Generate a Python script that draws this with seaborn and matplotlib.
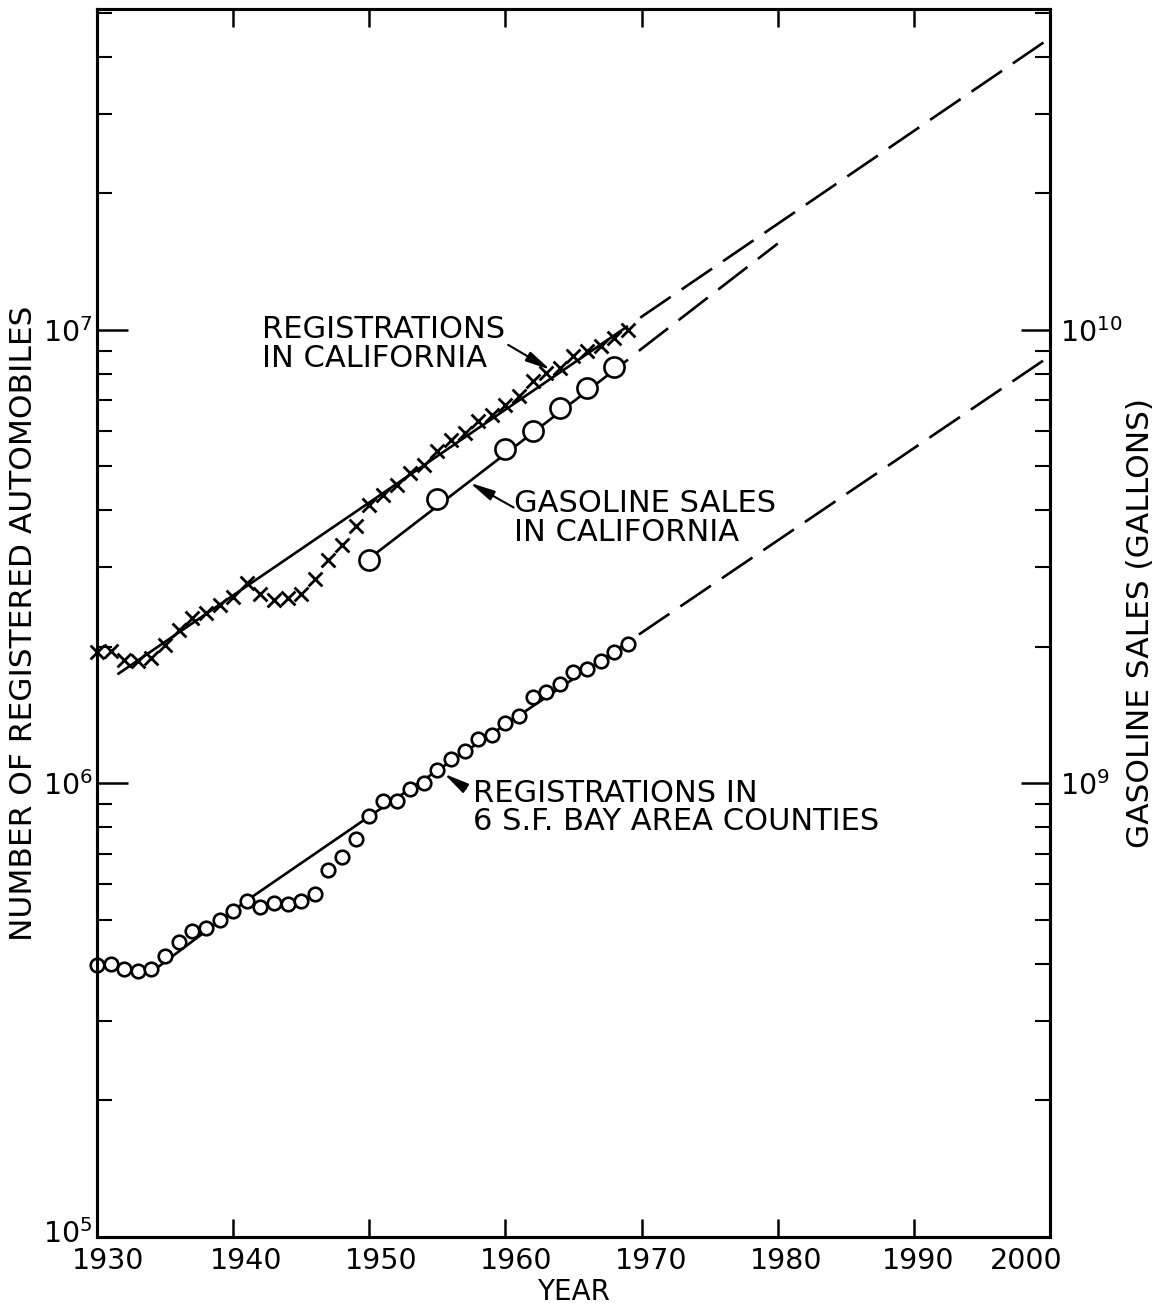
import matplotlib
matplotlib.use("Agg")
import matplotlib.pyplot as plt
import matplotlib.transforms as mtransforms
import seaborn as sns
from matplotlib.ticker import FixedLocator, LogLocator, LogFormatterMathtext, NullFormatter

# ---------------- data ----------------
years = list(range(1930, 1970))

# Registrations in California (x markers)
reg_ca = [1.95e6, 1.96e6, 1.87e6, 1.86e6, 1.89e6, 2.02e6, 2.18e6, 2.32e6, 2.38e6, 2.47e6,
          2.58e6, 2.77e6, 2.61e6, 2.54e6, 2.56e6, 2.62e6, 2.83e6, 3.11e6, 3.36e6, 3.70e6,
          4.12e6, 4.33e6, 4.56e6, 4.84e6, 5.04e6, 5.41e6, 5.72e6, 5.93e6, 6.30e6, 6.50e6,
          6.84e6, 7.15e6, 7.72e6, 8.04e6, 8.25e6, 8.76e6, 8.99e6, 9.22e6, 9.60e6, 1.00e7]

# Registrations in 6 S.F. Bay Area counties (small circles)
reg_bay = [3.97e5, 3.99e5, 3.89e5, 3.85e5, 3.89e5, 4.16e5, 4.47e5, 4.72e5, 4.79e5, 4.99e5,
           5.23e5, 5.52e5, 5.33e5, 5.44e5, 5.41e5, 5.50e5, 5.70e5, 6.43e5, 6.87e5, 7.53e5,
           8.46e5, 9.17e5, 9.17e5, 9.70e5, 1.00e6, 1.07e6, 1.135e6, 1.18e6, 1.256e6, 1.28e6,
           1.356e6, 1.41e6, 1.55e6, 1.59e6, 1.66e6, 1.765e6, 1.79e6, 1.86e6, 1.95e6, 2.03e6]

# Gasoline sales in California (large circles, right axis, gallons)
gas_years = [1950, 1955, 1960, 1962, 1964, 1966, 1968]
gas_sales = [3.11e9, 4.24e9, 5.47e9, 5.99e9, 6.73e9, 7.45e9, 8.29e9]

# Trend lines (solid) and projections (dashed)
reg_fit_years = [1931.5, 1969.0]
reg_fit_vals = [1.74e6, 1.02e7]
reg_proj_years = [1969.9, 2000.0]
reg_proj_vals = [1.064e7, 4.4e7]

gas_fit_years = [1949.3, 1969.0]
gas_fit_vals = [3.02e9, 8.6e9]
gas_proj_years = [1969.8, 1980.0]
gas_proj_vals = [8.99e9, 1.55e10]

bay_fit_years = [1934.3, 1941.0, 1950.0, 1969.0]
bay_fit_vals = [3.9e5, 5.52e5, 8.46e5, 2.05e6]
bay_proj_years = [1969.8, 2000.0]
bay_proj_vals = [2.13e6, 8.76e6]

x_ticks = [1930, 1940, 1950, 1960, 1970, 1980, 1990, 2000]

# ---------------- style ----------------
sns.set_style("ticks")
K = "black"
plt.rcParams["font.family"] = ["DejaVu Sans"]
plt.rcParams["mathtext.fontset"] = "dejavusans"
for key in ("text.color", "axes.labelcolor", "xtick.color", "ytick.color", "axes.edgecolor"):
    plt.rcParams[key] = K

fig = plt.figure(figsize=(11.6, 13.12), dpi=100)
ax = fig.add_axes([0.08362, 0.05716, 0.82155, 0.93598])
ax2 = ax.twinx()

LW = 1.9
DASH = (14, 5)

def line(axis, xs, ys, dashed=False):
    sns.lineplot(x=xs, y=ys, ax=axis, color=K, lw=LW, sort=False, estimator=None, legend=False)
    ln = axis.lines[-1]
    ln.set_solid_capstyle("butt")
    if dashed:
        ln.set_dashes(DASH)

# left axis: registrations
line(ax, reg_fit_years, reg_fit_vals)
line(ax, reg_proj_years, reg_proj_vals, dashed=True)
line(ax, bay_fit_years, bay_fit_vals)
line(ax, bay_proj_years, bay_proj_vals, dashed=True)

sns.scatterplot(x=years, y=reg_ca, ax=ax, marker="x", color=K, s=100, linewidth=2.0,
                legend=False, zorder=4, clip_on=False)
sns.scatterplot(x=years, y=reg_bay, ax=ax, marker="o", color="white", edgecolor=K, s=95,
                linewidth=1.9, legend=False, zorder=4, clip_on=False)

# right axis: gasoline
line(ax2, gas_fit_years, gas_fit_vals)
line(ax2, gas_proj_years, gas_proj_vals, dashed=True)
sns.scatterplot(x=gas_years, y=gas_sales, ax=ax2, marker="o", color="white", edgecolor=K,
                s=210, linewidth=1.9, legend=False, zorder=4)

# ---------------- axes ----------------
ax.set_yscale("log")
ax2.set_yscale("log")
ax.set_xlim(1930, 2000)
ax.set_ylim(1e5, 5.1e7)
ax2.set_ylim(1e8, 5.1e10)

ax.set_xticks(x_ticks)
ax.set_xticklabels([str(t) for t in x_ticks])

ax.yaxis.set_major_locator(FixedLocator([1e5, 1e6, 1e7]))
ax.yaxis.set_major_formatter(LogFormatterMathtext())
ax.yaxis.set_minor_locator(LogLocator(base=10, subs=range(2, 10), numticks=20))
ax.yaxis.set_minor_formatter(NullFormatter())

ax2.yaxis.set_major_locator(FixedLocator([1e9, 1e10]))
ax2.yaxis.set_major_formatter(LogFormatterMathtext())
ax2.yaxis.set_minor_locator(LogLocator(base=10, subs=range(2, 10), numticks=20))
ax2.yaxis.set_minor_formatter(NullFormatter())

ax.tick_params(axis="x", which="major", direction="in", length=13, width=1.8,
               top=True, bottom=True, pad=7, labelsize=20.5, color=K, labelcolor=K)
ax.tick_params(axis="y", which="major", direction="in", length=22, width=1.8,
               left=True, right=False, pad=3, labelsize=20.5, color=K, labelcolor=K)
ax.tick_params(axis="y", which="minor", direction="in", length=11, width=1.5,
               left=True, right=False, color=K)
ax2.tick_params(axis="y", which="major", direction="in", length=21, width=1.8,
                right=True, left=False, pad=7, labelsize=20.5, color=K, labelcolor=K)
ax2.tick_params(axis="y", which="minor", direction="in", length=11, width=1.5,
                right=True, left=False, color=K)

for a in (ax, ax2):
    for s in a.spines.values():
        s.set_linewidth(2.2)
        s.set_color(K)
        s.set_visible(True)

ax.set_xlabel("YEAR", fontsize=20, color=K)
ax.xaxis.set_label_coords(0.5, -0.0334)
ax.set_ylabel("NUMBER OF REGISTERED AUTOMOBILES", fontsize=22.5, color=K)
ax.yaxis.set_label_coords(-0.062, 0.5)
ax2.set_ylabel("GASOLINE SALES (GALLONS)", fontsize=22.5, rotation=90, color=K)
ax2.yaxis.set_label_coords(1.080, 0.5)

# ---------------- annotations ----------------
TXT = dict(ha="left", va="center", fontsize=22, linespacing=0.98, color=K)
ARR = dict(arrowstyle="-|>,head_length=0.75,head_width=0.16", color=K, lw=1.5,
           mutation_scale=20, shrinkA=0, shrinkB=0)

ax.text(1942.1, 9.31e6, "REGISTRATIONS\nIN CALIFORNIA", **TXT)
ax.annotate("", xy=(1963.3, 8.17e6), xytext=(1960.2, 9.27e6), arrowprops=ARR)

ax.text(1960.6, 3.85e6, "GASOLINE SALES\nIN CALIFORNIA", **TXT)
ax.annotate("", xy=(1957.4, 4.6e6), xytext=(1960.6, 4.06e6), arrowprops=ARR)

ax.text(1957.6, 8.85e5, "REGISTRATIONS IN\n6 S.F. BAY AREA COUNTIES", **TXT)
ax.annotate("", xy=(1955.5, 1.05e6), xytext=(1957.1, 9.75e5), arrowprops=ARR)

# hand-lettered label placement: small horizontal nudges (pixels)
x_label_nudge = [11, 13, 12, 11, 10, 8, 4, -24]
for lbl, dx in zip(ax.get_xticklabels(), x_label_nudge):
    lbl.set_transform(lbl.get_transform() +
                      mtransforms.ScaledTranslation(dx / 100.0, 0, fig.dpi_scale_trans))
ylbls = ax.get_yticklabels()
ylbls[0].set_transform(ylbls[0].get_transform() +
                       mtransforms.ScaledTranslation(0, 6 / 100.0, fig.dpi_scale_trans))

fig.savefig("out.png", dpi=100, facecolor="white")
